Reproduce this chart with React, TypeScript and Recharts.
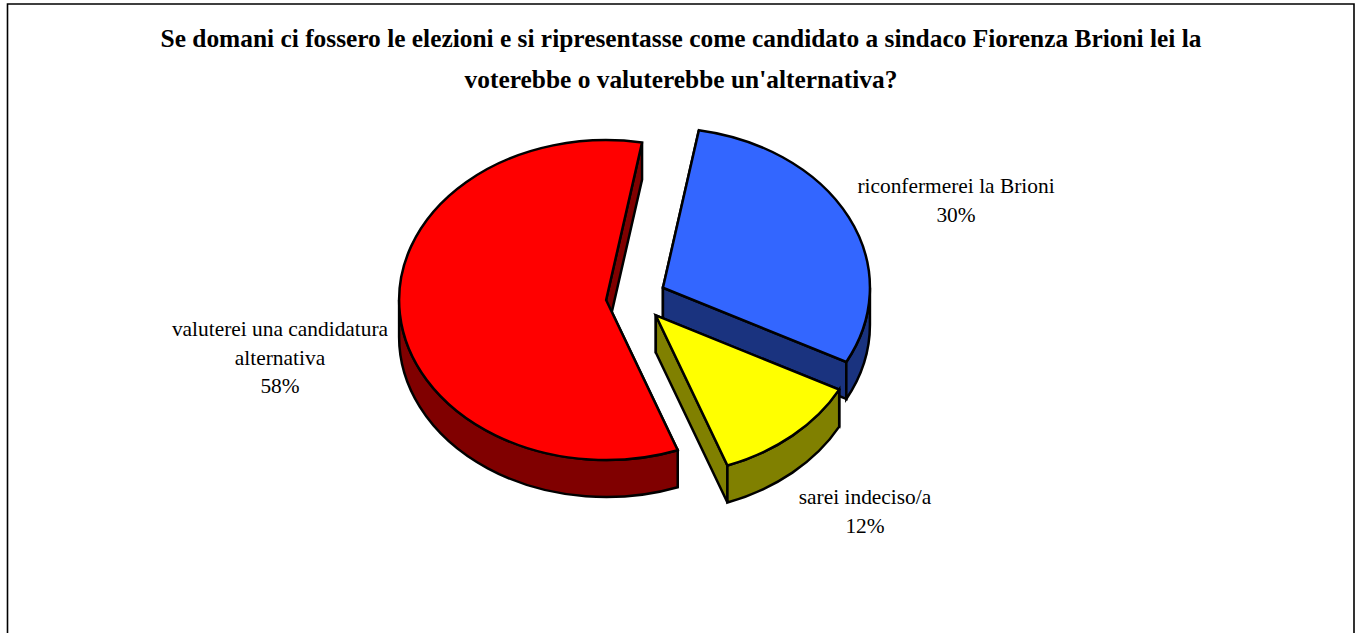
import { PieChart, Pie } from 'recharts';

const titleLines = [
    'Se domani ci fossero le elezioni e si ripresentasse come candidato a sindaco Fiorenza Brioni lei la',
    "voterebbe o valuterebbe un'alternativa?",
];
const categories = ['riconfermerei la Brioni', 'sarei indeciso/a', 'valuterei una candidatura\nalternativa'];
const shares = [29.9, 11.7, 58.4];
const topColors = ['#3366FF', '#FFFF00', '#FF0000'];
const wallColors = ['#1A337F', '#808000', '#800000'];

const chartData = categories.map((name, i) => ({ name, value: shares[i], top: topColors[i], wall: wallColors[i] }));

// layout of the fake 3D pie
const squash = 0.773;
const depth = 37;
const explode = 0.145;
const labelCentres: Record<string, [number, number]> = {
    'riconfermerei la Brioni': [956, 193],
    'sarei indeciso/a': [865, 504],
    'valuterei una candidatura\nalternativa': [280, 336],
};

const rad = (a: number) => (a * Math.PI) / 180;

const Slice3D = (props: any) => {
    const { cx, cy, outerRadius, startAngle, endAngle, payload } = props;
    const rx = outerRadius;
    const ry = outerRadius * squash;
    const mid = (startAngle + endAngle) / 2;
    const ox = cx + explode * rx * Math.cos(rad(mid));
    const oy = cy - explode * ry * Math.sin(rad(mid));
    const pt = (a: number, dy = 0) => `${ox + rx * Math.cos(rad(a))} ${oy - ry * Math.sin(rad(a)) + dy}`;
    const large = Math.abs(startAngle - endAngle) > 180 ? 1 : 0;
    const quad = (a: number) => `M${ox} ${oy}L${pt(a)}L${pt(a, depth)}L${ox} ${oy + depth}Z`;

    // only the lower half of the rim faces the viewer
    const rimFrom = Math.min(startAngle, 0);
    const rimTo = Math.max(endAngle, -180);
    const rimLarge = rimFrom - rimTo > 180 ? 1 : 0;
    const rim = rimFrom > rimTo
        ? `M${pt(rimFrom)}A${rx} ${ry} 0 ${rimLarge} 1 ${pt(rimTo)}L${pt(rimTo, depth)}A${rx} ${ry} 0 ${rimLarge} 0 ${pt(rimFrom, depth)}Z`
        : '';
    const face = `M${ox} ${oy}L${pt(startAngle)}A${rx} ${ry} 0 ${large} 1 ${pt(endAngle)}Z`;

    const common = { stroke: '#000', strokeWidth: 2.5, strokeLinejoin: 'miter' as const };
    return (
        <g>
            <path d={quad(startAngle)} fill={payload.wall} {...common} />
            <path d={quad(endAngle)} fill={payload.wall} {...common} />
            {rim && <path d={rim} fill={payload.wall} {...common} />}
            <path d={face} fill={payload.top} {...common} />
        </g>
    );
};

const SliceLabel = (props: any) => {
    const [x, y] = labelCentres[props.name];
    const lines = [...String(props.name).split('\n'), `${Math.round(props.value)}%`];
    return (
        <text x={x} y={y} textAnchor="middle" fontFamily="'Liberation Serif', serif" fontSize={21.4} fill="#000">
            {lines.map((line, i) => (
                <tspan key={i} x={x} y={y + i * 28.7}>{line}</tspan>
            ))}
        </text>
    );
};

const App = () => {
    return (
        <div style={{ position: 'absolute', left: 0, top: 0, width: 1358, height: 633, background: '#fff' }}>
            <PieChart width={1358} height={633} margin={{ top: 0, right: 0, bottom: 0, left: 0 }}>
                <path d="M7.5 640V4H1354V640" fill="none" stroke="#000" strokeWidth={1.6} />
                {titleLines.map((line, i) => (
                    <text key={i} x={681} y={47 + i * 41} textAnchor="middle" fontFamily="'Liberation Serif', serif" fontWeight="bold" fontSize={25.4} fill="#000">
                        {line}
                    </text>
                ))}
                <Pie
                    data={chartData}
                    dataKey="value"
                    nameKey="name"
                    cx={636}
                    cy={298}
                    outerRadius={207}
                    startAngle={80}
                    endAngle={-280}
                    stroke="none"
                    shape={Slice3D}
                    label={SliceLabel}
                    labelLine={false}
                    isAnimationActive={false}
                />
            </PieChart>
        </div>
    );
};

export default App;
